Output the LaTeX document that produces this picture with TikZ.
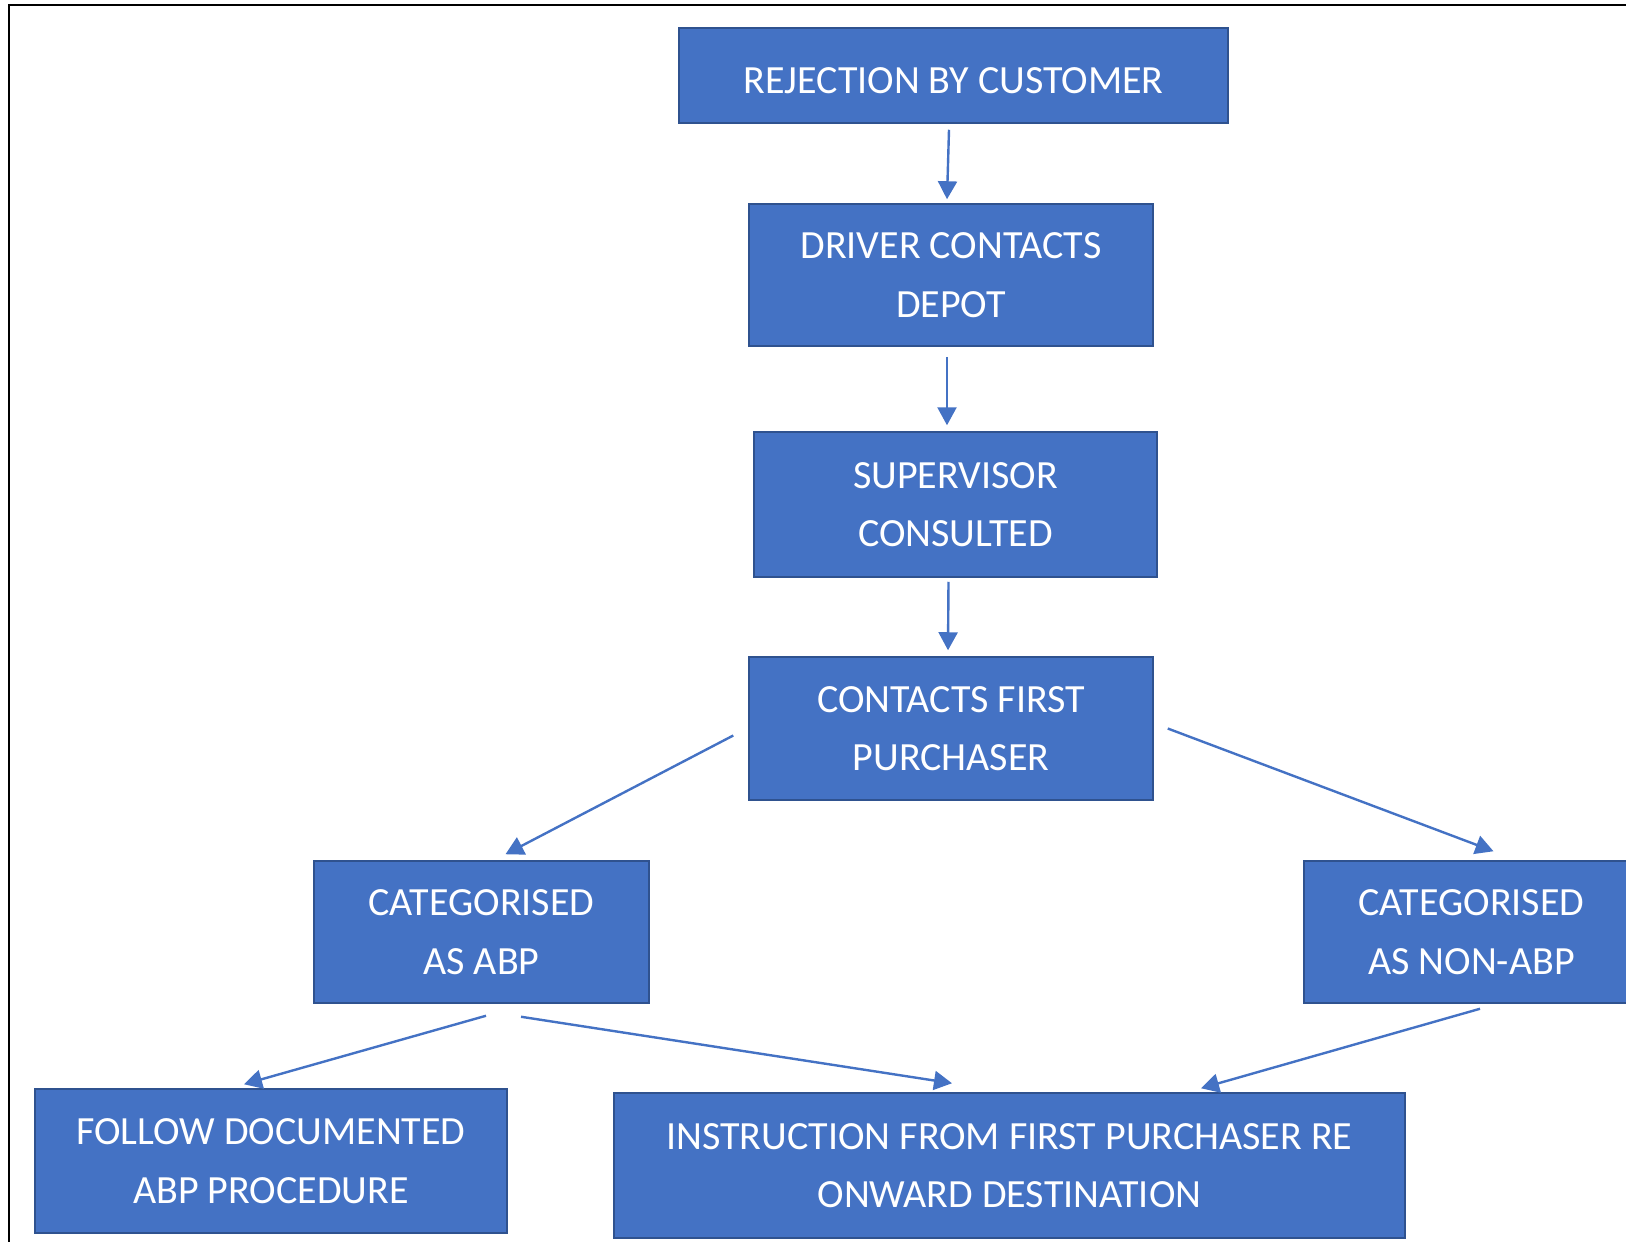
\documentclass[tikz,border=0pt]{standalone}
\usepackage{fontspec}
\setmainfont{Carlito}
\usetikzlibrary{arrows.meta}
\definecolor{boxfill}{HTML}{4472C4}
\definecolor{boxline}{HTML}{2F528F}
\tikzset{
  box/.style={draw=boxline, line width=1.5pt, fill=boxfill, text=white, inner sep=0pt,
    align=center, font=\fontsize{40}{58.5}\selectfont,
    execute at begin node={\rule{0pt}{37pt}}},
  arr/.style={draw=boxfill, line width=2.4pt, -{Triangle[length=18pt,width=19pt]}},
}
\begin{document}
\begin{tikzpicture}[x=1pt,y=-1pt]
\useasboundingbox (0,0) rectangle (1626,1242);
\draw[line width=2pt] (9,1250) -- (9,5) -- (1640,5);

\node[box, minimum width=549pt, minimum height=95pt] (b1) at (953.5,75.5) {REJECTION BY CUSTOMER};
\node[box, minimum width=404pt, minimum height=142pt] (b2) at (951,275) {DRIVER CONTACTS\\DEPOT};
\node[box, minimum width=403pt, minimum height=145pt] (b3) at (955.5,504.5) {SUPERVISOR\\CONSULTED};
\node[box, minimum width=404pt, minimum height=143pt] (b4) at (951,728.5) {CONTACTS FIRST\\PURCHASER};
\node[box, minimum width=335pt, minimum height=142pt] (b5) at (481.5,932) {CATEGORISED\\AS ABP};
\node[box, minimum width=335pt, minimum height=142pt] (b6) at (1471.5,932) {CATEGORISED\\AS NON-ABP};
\node[box, minimum width=472pt, minimum height=144pt] (b7) at (271,1161) {FOLLOW DOCUMENTED\\ABP PROCEDURE};
\node[box, minimum width=791pt, minimum height=145pt] (b8) at (1009.5,1165.5) {INSTRUCTION FROM FIRST PURCHASER RE\\ONWARD DESTINATION};

\draw[arr] ([xshift=-4.5pt,yshift=-6pt]b1.south) -- ([xshift=-4pt,yshift=4pt]b2.north);
\draw[arr] ([xshift=-4pt,yshift=-10pt]b2.south) -- ([xshift=-4pt,yshift=6pt]b2.south |- b3.north);
\draw[arr] ([xshift=-7pt,yshift=-4pt]b3.south) -- ([xshift=-3pt,yshift=6pt]b4.north);
\draw[arr] ([xshift=-15pt,yshift=-7pt]b4.west) -- ([xshift=24pt,yshift=6pt]b5.north);
\draw[arr] ([xshift=14pt,yshift=0pt]b4.east) -- ([xshift=22pt,yshift=9pt]b6.north);
\draw[arr] ([xshift=4.5pt,yshift=-12pt]b5.south) -- ([xshift=-27pt,yshift=4pt]b7.north);
\draw[arr] ([xshift=39.5pt,yshift=-13pt]b5.south) -- ([xshift=-57.5pt,yshift=9pt]b8.north);
\draw[arr] ([xshift=8.5pt,yshift=-5pt]b6.south) -- ([xshift=191.5pt,yshift=4pt]b8.north);
\end{tikzpicture}
\end{document}
